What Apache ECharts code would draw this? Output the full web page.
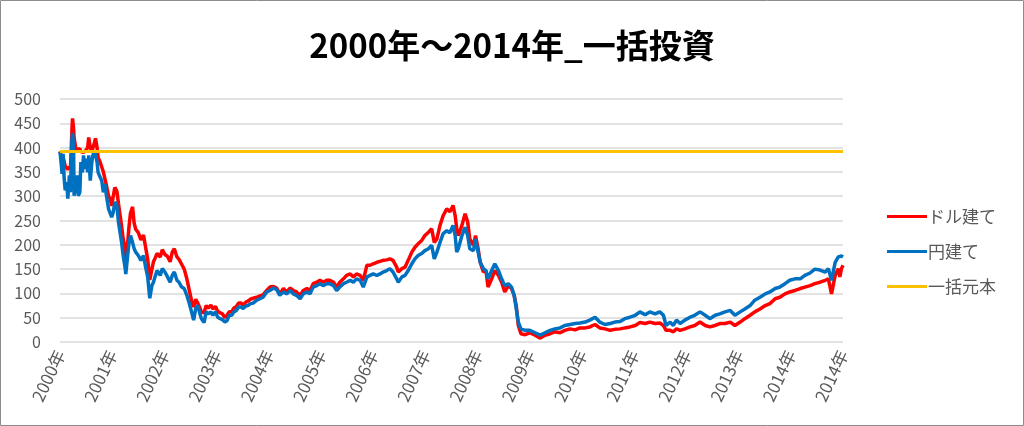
<!DOCTYPE html>
<html>
<head>
<meta charset="utf-8">
<script src="https://cdn.jsdelivr.net/npm/echarts/dist/echarts.min.js"></script>
<style>
html,body{margin:0;padding:0;background:#fff;}
#chart{width:1024px;height:426px;}
</style>
</head>
<body>
<div id="chart"></div>
<script>
// Tick labels along the x axis (16 evenly spaced ticks)
const tickLabels = ['2000年','2001年','2002年','2003年','2004年','2005年','2006年','2007年','2008年','2009年','2010年','2011年','2012年','2013年','2014年','2014年'];

// Sample positions, in tick units (0 = first tick, 15 = last tick)
const positions = [
0.00,0.02,0.04,0.06,0.08,0.10,0.13,0.15,0.18,0.20,0.23,0.24,0.26,0.27,0.30,0.33,0.35,0.38,0.40,0.43,
0.45,0.48,0.50,0.53,0.55,0.58,0.61,0.63,0.66,0.68,0.71,0.73,0.77,0.80,0.83,0.86,0.89,0.93,0.96,0.99,
1.02,1.05,1.09,1.12,1.15,1.18,1.21,1.25,1.26,1.29,1.32,1.35,1.39,1.42,1.45,1.50,1.55,1.60,1.64,1.68,
1.72,1.76,1.79,1.82,1.86,1.92,1.96,2.01,2.06,2.11,2.15,2.19,2.24,2.28,2.33,2.38,2.43,2.47,2.52,2.56,
2.60,2.64,2.68,2.71,2.76,2.80,2.84,2.89,2.93,2.98,3.02,3.07,3.11,3.16,3.20,3.24,3.29,3.33,3.38,3.42,
3.47,3.51,3.56,3.60,3.65,3.70,3.77,3.83,3.89,3.96,4.02,4.09,4.15,4.21,4.28,4.34,4.41,4.47,4.53,4.60,
4.66,4.73,4.79,4.85,4.92,4.98,5.04,5.11,5.17,5.24,5.30,5.36,5.43,5.49,5.56,5.62,5.68,5.75,5.81,5.88,
5.94,6.00,6.07,6.13,6.19,6.26,6.32,6.38,6.45,6.48,6.55,6.61,6.67,6.74,6.80,6.86,6.93,6.99,7.06,7.12,
7.17,7.22,7.28,7.34,7.41,7.47,7.53,7.57,7.60,7.63,7.70,7.76,7.81,7.85,7.92,7.96,8.01,8.05,8.11,8.16,
8.20,8.27,8.33,8.40,8.46,8.52,8.59,8.65,8.70,8.74,8.78,8.83,8.91,9.00,9.10,9.20,9.29,9.39,9.48,9.58,
9.67,9.77,9.87,9.96,10.06,10.15,10.25,10.34,10.44,10.54,10.63,10.73,10.82,10.92,11.02,11.11,11.21,11.30,11.40,11.49,
11.56,11.61,11.69,11.75,11.81,11.88,11.97,12.07,12.16,12.26,12.36,12.45,12.55,12.64,12.74,12.84,12.93,13.03,13.12,13.22,
13.31,13.41,13.51,13.60,13.70,13.79,13.89,13.98,14.08,14.18,14.27,14.37,14.46,14.56,14.66,14.72,14.78,14.85,14.91,14.94,
14.97,15.00
];

// ドル建て (USD based)
const usdValues = [
392,385,370,380,378,362,365,355,360,355,440,460,440,420,400,395,393,398,392,396,
390,392,395,400,421,400,392,395,410,419,400,380,370,360,350,352,322,300,295,280,
300,318,310,285,262,238,212,192,165,195,235,265,278,245,232,225,210,220,195,170,
128,150,165,172,182,175,190,180,176,165,185,192,175,170,160,150,130,110,85,72,
88,80,70,62,60,75,70,76,68,73,63,60,58,50,55,62,62,70,73,80,
80,76,82,84,88,90,92,95,97,106,113,114,111,99,110,103,111,106,103,96,
106,110,106,120,123,127,123,127,127,123,113,123,130,137,140,134,140,137,127,158,
158,161,164,166,168,169,171,168,154,144,151,154,168,185,195,202,209,219,226,233,
205,212,240,260,274,268,281,260,233,219,240,264,247,212,199,219,192,164,144,147,
113,130,147,137,123,103,116,110,96,75,34,17,15,19,14,8,14,17,21,19,
24,27,25,29,29,31,36,29,27,24,26,27,29,31,34,40,38,41,38,39,
34,24,24,21,27,24,27,31,34,41,34,31,34,38,38,41,34,41,48,55,
62,68,75,79,89,92,99,103,106,110,113,116,120,123,127,130,99,137,151,134,
151,158
];

// 円建て (JPY based)
const jpyValues = [
392,370,346,387,336,312,329,295,343,308,418,430,405,301,322,343,301,308,370,349,
384,356,377,349,384,332,370,384,394,387,370,349,339,332,308,325,301,274,274,257,
267,288,281,247,226,205,178,151,140,171,202,219,205,192,185,178,168,178,154,134,
90,116,123,134,147,137,151,144,134,123,137,144,127,123,113,110,96,82,62,45,
69,75,58,48,40,62,58,62,55,62,51,48,46,41,44,55,55,62,65,72,
72,69,74,75,79,80,86,89,92,103,106,111,108,96,103,99,106,99,96,89,
99,103,99,113,116,120,116,120,120,116,106,113,120,123,127,123,130,127,113,134,
137,140,137,140,144,147,151,144,130,123,134,137,147,161,171,178,182,188,192,199,
171,185,205,223,229,225,240,219,185,192,219,236,219,192,188,212,185,164,151,147,
130,147,161,147,130,116,120,113,96,69,41,27,24,24,19,14,19,24,27,29,
34,36,38,39,41,45,51,41,36,38,41,42,48,51,55,62,56,62,58,62,
55,34,41,34,45,38,45,51,55,62,55,48,55,58,62,65,55,62,68,75,
86,92,99,103,110,113,120,127,130,130,137,142,150,148,144,151,127,164,175,172,
177,175
];

// 一括元本 (lump-sum principal)
const principal = 392;

const seriesNames = ['ドル建て','円建て','一括元本'];

const usdData = positions.map((p, i) => [p, usdValues[i]]);
const jpyData = positions.map((p, i) => [p, jpyValues[i]]);
const principalData = [[positions[0], principal], [positions[positions.length - 1], principal]];

const FONT = '"Noto Sans CJK JP", "Noto Sans", sans-serif';
const chart = echarts.init(document.getElementById('chart'), null, {renderer: 'canvas'});
chart.setOption({
  animation: false,
  backgroundColor: '#ffffff',
  title: {
    text: '2000年～2014年_一括投資',
    left: 'center',
    top: 24,
    textStyle: {fontFamily: FONT, fontSize: 33, fontWeight: 'bold', color: '#000000'}
  },
  legend: {
    data: seriesNames,
    orient: 'vertical',
    left: 882,
    top: 203,
    icon: 'rect',
    itemWidth: 40,
    itemHeight: 3,
    itemGap: 18,
    textStyle: {fontFamily: FONT, fontSize: 17, color: '#595959', padding: [0, 0, 0, -4]}
  },
  grid: {left: 60, right: 181, top: 99, bottom: 84, containLabel: false},
  xAxis: {
    type: 'value',
    min: 0,
    max: 15,
    interval: 1,
    axisLine: {show: false},
    axisTick: {show: false},
    splitLine: {show: false},
    axisLabel: {
      rotate: 65,
      margin: 9,
      fontFamily: FONT,
      fontSize: 17,
      color: '#595959',
      showMinLabel: true,
      showMaxLabel: true,
      formatter: function (v) { return tickLabels[Math.round(v)]; }
    }
  },
  yAxis: {
    type: 'value',
    min: 0,
    max: 500,
    interval: 50,
    axisLine: {show: false},
    axisTick: {show: false},
    splitLine: {lineStyle: {color: '#d9d9d9', width: 1.5}},
    axisLabel: {margin: 19, fontFamily: FONT, fontSize: 16, color: '#595959'}
  },
  series: [
    {name: seriesNames[0], type: 'line', data: usdData, showSymbol: false, symbol: 'none',
     lineStyle: {color: '#ff0000', width: 3.5}, itemStyle: {color: '#ff0000'}, z: 2},
    {name: seriesNames[1], type: 'line', data: jpyData, showSymbol: false, symbol: 'none',
     lineStyle: {color: '#0070c0', width: 3.5}, itemStyle: {color: '#0070c0'}, z: 3},
    {name: seriesNames[2], type: 'line', data: principalData, showSymbol: false, symbol: 'none',
     lineStyle: {color: '#ffc000', width: 3}, itemStyle: {color: '#ffc000'}, z: 4}
  ],
  graphic: [{
    type: 'rect',
    shape: {x: 0.5, y: 0.5, width: 1023, height: 425},
    style: {fill: 'none', stroke: '#8c8c8c', lineWidth: 1},
    silent: true
  }]
});
</script>
</body>
</html>
